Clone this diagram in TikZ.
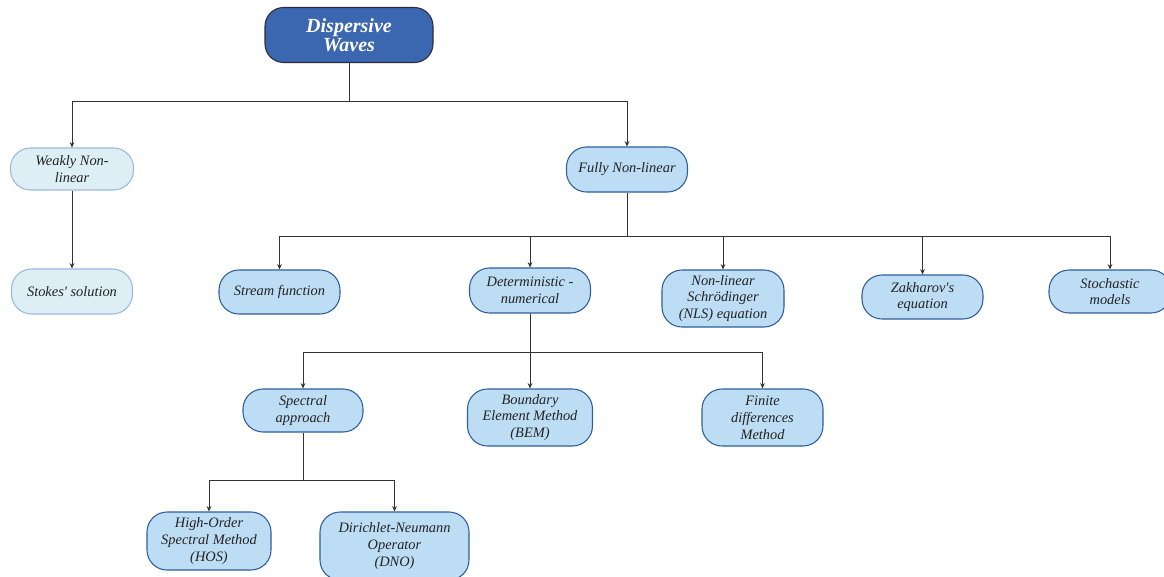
\documentclass[tikz,border=0pt]{standalone}
\usepackage{fontspec}
\setmainfont{Liberation Serif}
\usetikzlibrary{arrows.meta}
\definecolor{topfill}{HTML}{3B67B1}
\definecolor{topdraw}{HTML}{2B2B3B}
\definecolor{paleFill}{HTML}{DDEFF4}
\definecolor{paleDraw}{HTML}{9DB8DB}
\definecolor{boxFill}{HTML}{BDDDF4}
\definecolor{boxDraw}{HTML}{2F5E9A}
\definecolor{lineCol}{HTML}{333333}
\definecolor{txt}{HTML}{222222}
\tikzset{
  base/.style={rectangle, rounded corners=15pt, line width=0.8pt, align=center,
    font=\itshape\fontsize{10.8}{12.6}\selectfont, text=txt, inner sep=1pt},
  topbox/.style={base, fill=topfill, draw=topdraw, text=white,
    font=\bfseries\itshape\fontsize{15}{16.5}\selectfont, rounded corners=14pt},
  palebox/.style={base, fill=paleFill, draw=paleDraw},
  bluebox/.style={base, fill=boxFill, draw=boxDraw},
  conn/.style={draw=lineCol, line width=0.75pt},
  arr/.style={conn, -{Stealth[length=4pt,width=3.5pt]}},
}
\begin{document}
\begin{tikzpicture}[x=0.75pt,y=-0.75pt]
\useasboundingbox (0,0) rectangle (1164,576);
\clip (0,0) rectangle (1164,576);
% nodes
\node[topbox, minimum width=126pt, minimum height=41.25pt] (top) at (349,35) {Dispersive\\[-2pt]Waves};
\node[palebox, minimum width=92.25pt, minimum height=31.5pt] (weak) at (72,169) {Weakly Non-\\linear};
\node[palebox, minimum width=90.75pt, minimum height=33.75pt] (stokes) at (72,291.5) {Stokes\textquotesingle\ solution};
\node[bluebox, minimum width=90.75pt, minimum height=33.75pt] (fully) at (627,169.5) {Fully Non-linear};
\node[bluebox, minimum width=90.75pt, minimum height=33pt] (stream) at (279.5,292) {Stream function};
\node[bluebox, minimum width=90.75pt, minimum height=33.75pt] (determ) at (530,290.5) {Deterministic -\\numerical};
\node[bluebox, minimum width=91.5pt, minimum height=42.75pt] (nls) at (723,298.5) {Non-linear\\Schrödinger\\(NLS) equation};
\node[bluebox, minimum width=90.75pt, minimum height=33pt] (zak) at (922.5,297) {Zakharov\textquotesingle s\\equation};
\node[bluebox, minimum width=91.5pt, minimum height=32.25pt] (stoch) at (1110,291.5) {Stochastic\\models};
\node[bluebox, minimum width=90pt, minimum height=32.25pt] (spec) at (303,410.5) {Spectral\\approach};
\node[bluebox, minimum width=93.75pt, minimum height=42.75pt] (bem) at (530,417.5) {Boundary\\Element Method\\(BEM)};
\node[bluebox, minimum width=90.75pt, minimum height=42.75pt] (fd) at (762.5,417.5) {Finite\\differences\\Method};
\node[bluebox, minimum width=93pt, minimum height=43.5pt] (hos) at (209,541) {High-Order\\Spectral Method\\(HOS)};
\node[bluebox, minimum width=111.75pt, minimum height=51pt] (dno) at (394.5,546) {Dirichlet-Neumann\\Operator\\(DNO)};
% junctions
\coordinate (j1) at (349,101);
\coordinate (j2) at (627,236);
\coordinate (j3) at (530,352);
\coordinate (j4) at (303,480);
% connectors
\draw[conn] (top) -- (j1);
\draw[arr] (j1) -| (weak);
\draw[arr] (j1) -| (fully);
\draw[arr] (weak) -- (stokes);
\draw[conn] (fully) -- (j2);
\draw[arr] (j2) -| (stream);
\draw[arr] (j2) -| (determ);
\draw[arr] (j2) -| (nls);
\draw[arr] (j2) -| (zak);
\draw[arr] (j2) -| (stoch);
\draw[conn] (determ) -- (j3);
\draw[arr] (j3) -| (spec);
\draw[arr] (j3) -- (bem);
\draw[arr] (j3) -| (fd);
\draw[conn] (spec) -- (j4);
\draw[arr] (j4) -| (hos);
\draw[arr] (j4) -| (dno);
\end{tikzpicture}
\end{document}
